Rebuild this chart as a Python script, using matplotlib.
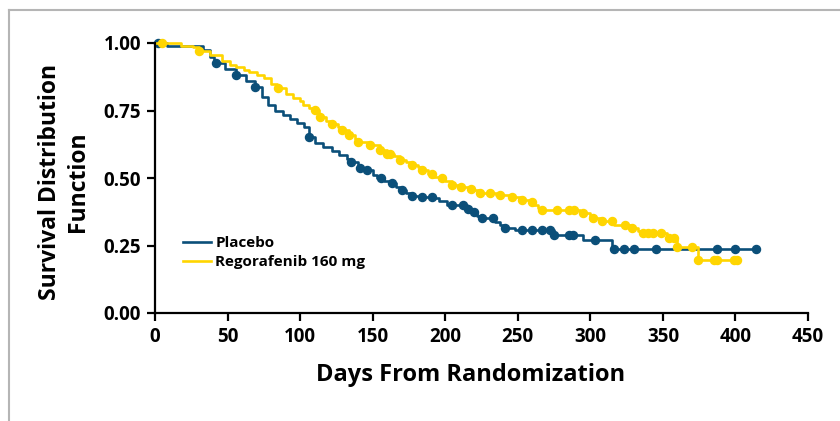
import numpy as np
import matplotlib
matplotlib.use("Agg")
import matplotlib.pyplot as plt
from matplotlib.lines import Line2D

# Kaplan-Meier step curves: (day of event, survival after it)
placebo_days = [0, 8, 33, 38, 41, 48, 56, 63, 69, 74, 78, 83, 88, 93, 98, 103, 106,
                110, 116, 122, 127, 132, 135, 140, 146, 150, 153, 158, 162, 166, 169,
                173, 177, 184, 192, 196, 201, 215, 217, 222, 225, 234, 238, 241, 248,
                275, 295, 315, 414]
placebo_surv = [1.0, 0.99, 0.975, 0.95, 0.925, 0.905, 0.88, 0.86, 0.837, 0.80, 0.77,
                0.75, 0.735, 0.72, 0.705, 0.69, 0.652, 0.63, 0.615, 0.60, 0.585, 0.57,
                0.56, 0.537, 0.53, 0.51, 0.50, 0.49, 0.48, 0.465, 0.456, 0.445, 0.433,
                0.43, 0.426, 0.415, 0.40, 0.385, 0.374, 0.36, 0.352, 0.337, 0.325,
                0.315, 0.307, 0.289, 0.27, 0.237, 0.237]
placebo_censor = [2, 42, 56, 69, 106, 135, 141, 146, 156, 163, 170, 177, 184, 191, 205,
                  212, 216, 220, 225, 233, 241, 253, 260, 267, 272, 275, 285, 288, 303,
                  316, 323, 330, 345, 387, 400, 414]

rego_days = [0, 18, 26, 30, 38, 46, 52, 56, 61, 65, 70, 75, 80, 84, 90, 95, 100, 102,
             106, 110, 113, 118, 122, 126, 129, 134, 138, 140, 148, 155, 160, 165, 169,
             173, 177, 181, 184, 188, 192, 198, 200, 205, 211, 216, 219, 224, 235, 246,
             253, 258, 261, 264, 267, 293, 300, 308, 316, 328, 333, 336, 353, 360, 374,
             401]
rego_surv = [1.0, 0.99, 0.985, 0.97, 0.955, 0.933, 0.92, 0.91, 0.90, 0.893, 0.88, 0.87,
             0.85, 0.835, 0.81, 0.796, 0.785, 0.77, 0.76, 0.752, 0.726, 0.71, 0.70, 0.69,
             0.678, 0.66, 0.645, 0.633, 0.622, 0.604, 0.59, 0.58, 0.567, 0.56, 0.548,
             0.54, 0.53, 0.515, 0.504, 0.50, 0.49, 0.474, 0.467, 0.46, 0.456, 0.444,
             0.437, 0.43, 0.419, 0.41, 0.40, 0.39, 0.381, 0.37, 0.352, 0.34, 0.326,
             0.315, 0.305, 0.296, 0.278, 0.244, 0.196, 0.196]
rego_censor = [5, 30, 85, 110, 114, 122, 129, 134, 140, 148, 155, 160, 162, 169, 177,
               184, 191, 198, 205, 211, 218, 224, 231, 238, 246, 253, 260, 267, 277, 285,
               289, 295, 302, 308, 315, 324, 329, 336, 340, 343, 349, 354, 358, 360, 370,
               374, 385, 387, 399, 401]

x_ticks = [0, 50, 100, 150, 200, 250, 300, 350, 400, 450]
y_ticks = [0.0, 0.25, 0.5, 0.75, 1.0]

BLUE = "#0b4f79"
YELLOW = "#ffd500"
FONT = "Open Sans"


def surv_at(days, surv, t):
    idx = np.searchsorted(days, t, side="right") - 1
    return np.asarray(surv)[idx]


fig = plt.figure(figsize=(8.4, 4.21), dpi=100)
ax = fig.add_axes([155 / 840, 1 - 313 / 421, 653 / 840, 270 / 421])

series = [
    ("Placebo", placebo_days, placebo_surv, placebo_censor, BLUE),
    ("Regorafenib 160 mg", rego_days, rego_surv, rego_censor, YELLOW),
]
for label, days, surv, cens, col in series:
    ax.step(days, surv, where="post", color=col, lw=1.9, label=label, clip_on=False)
    cy = surv_at(days, surv, cens)
    ax.plot(cens, cy, "o", color=col, ms=5.8, mec=col, clip_on=False)

ax.set_xlim(0, 450)
ax.set_ylim(0, 1)
ax.set_xticks(x_ticks)
ax.set_xticklabels([str(v) for v in x_ticks])
ax.set_yticks(y_ticks)
ax.set_yticklabels([f"{v:.2f}" for v in y_ticks])

for s in ["top", "right"]:
    ax.spines[s].set_visible(False)
for s in ["left", "bottom"]:
    ax.spines[s].set_linewidth(1.6)
ax.tick_params(length=6, width=1.6, direction="out", pad=4)
for lab in ax.get_xticklabels() + ax.get_yticklabels():
    lab.set_fontfamily(FONT)
    lab.set_fontweight("bold")
    lab.set_fontsize(13.5)

ax.set_xlabel("Days From Randomization", fontfamily=FONT, fontweight="bold",
              fontsize=17, va="top")
ax.xaxis.set_label_coords(0.484, -0.185)
ax.set_ylabel("Survival Distribution\nFunction", fontfamily=FONT, fontweight="bold",
              fontsize=16.5, linespacing=1.2)
ax.yaxis.set_label_coords(-0.1, 0.485)

leg = ax.legend(loc="upper left", bbox_to_anchor=(0.022, 0.335), frameon=False,
                handlelength=1.85, handletextpad=0.25, labelspacing=0.3,
                prop={"family": FONT, "weight": "bold", "size": 11})

# grey frame of the original panel (left and top edges visible)
fig.add_artist(Line2D([9 / 840, 9 / 840], [0, 1 - 10 / 421], transform=fig.transFigure,
                      color="#b5b5b5", lw=1.5))
fig.add_artist(Line2D([9 / 840, 1], [1 - 10 / 421, 1 - 10 / 421],
                      transform=fig.transFigure, color="#b5b5b5", lw=1.5))

fig.savefig("out.png", dpi=100)
